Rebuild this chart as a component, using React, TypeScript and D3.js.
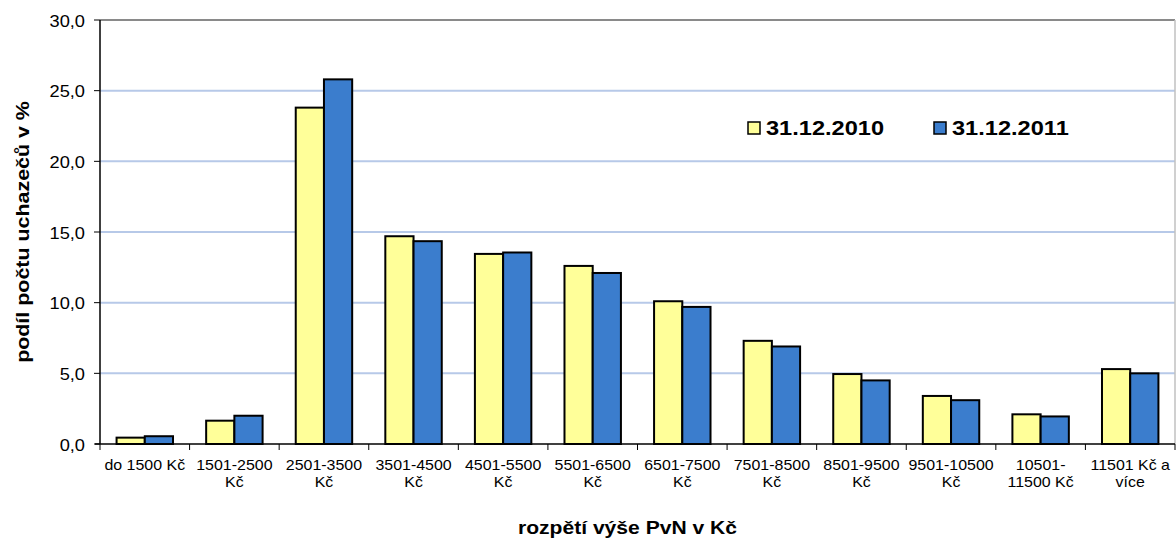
import React from "react";
import * as d3 from "d3";

const categories: string[][] = [
  ["do 1500 Kč"],
  ["1501-2500", "Kč"],
  ["2501-3500", "Kč"],
  ["3501-4500", "Kč"],
  ["4501-5500", "Kč"],
  ["5501-6500", "Kč"],
  ["6501-7500", "Kč"],
  ["7501-8500", "Kč"],
  ["8501-9500", "Kč"],
  ["9501-10500", "Kč"],
  ["10501-", "11500 Kč"],
  ["11501 Kč a", "více"],
];
const series2010: number[] = [0.45, 1.65, 23.8, 14.7, 13.45, 12.6, 10.1, 7.3, 4.95, 3.4, 2.1, 5.3];
const series2011: number[] = [0.55, 2.0, 25.8, 14.35, 13.55, 12.1, 9.7, 6.9, 4.5, 3.1, 1.95, 5.0];
const seriesNames = ["31.12.2010", "31.12.2011"];
const seriesColors = ["#ffff99", "#3b7dcd"];
const yTicks: number[] = [0, 5, 10, 15, 20, 25, 30];

const W = 1176;
const H = 549;
const M = { left: 100, right: 1175, top: 20, bottom: 444 };
const font = "'Liberation Sans', Arial, sans-serif";
const SX = 1.14;

export default function App() {
  const idx = d3.range(categories.length).map(String);
  const x = d3.scaleBand<string>().domain(idx).range([M.left, M.right]).paddingInner(0.37).paddingOuter(0.185);
  const step = (M.right - M.left) / categories.length;
  const bw = x.bandwidth() / 2;
  const y = d3.scaleLinear().domain([0, 30]).range([M.bottom, M.top]);
  const fmt = (v: number) => v.toFixed(1).replace(".", ",");
  const all = [series2010, series2011];

  return (
    <svg width={W} height={H} style={{ position: "absolute", left: 0, top: 0, background: "#fff" }} fontFamily={font}>
      {/* gridlines */}
      {yTicks.filter((t) => t > 0 && t < 30).map((t) => (
        <line key={"g" + t} x1={M.left} x2={M.right} y1={y(t)} y2={y(t)} stroke="#b7c9e8" strokeWidth={2} />
      ))}
      <line x1={M.left} x2={M.right} y1={y(30)} y2={y(30)} stroke="#8a8a8a" strokeWidth={2} />
      <line x1={M.right} x2={M.right} y1={M.top} y2={M.bottom} stroke="#c0c0c0" strokeWidth={1.5} />
      {/* bars */}
      {all.map((s, si) =>
        s.map((v, i) => (
          <rect
            key={si + "-" + i}
            x={(x(String(i)) as number) + si * bw}
            y={y(v)}
            width={bw}
            height={y(0) - y(v)}
            fill={seriesColors[si]}
            stroke="#000"
            strokeWidth={2}
          />
        ))
      )}
      {/* axes */}
      <line x1={M.left} x2={M.left} y1={M.top} y2={M.bottom} stroke="#000" strokeWidth={1.5} />
      <line x1={M.left - 5} x2={M.right} y1={M.bottom} y2={M.bottom} stroke="#000" strokeWidth={1.5} />
      {yTicks.map((t) => (
        <g key={"y" + t}>
          <line x1={M.left - 6} x2={M.left} y1={y(t)} y2={y(t)} stroke="#000" strokeWidth={1} />
          <text transform={`translate(85, ${y(t) + 6.5}) scale(${SX},1)`} textAnchor="end" fontSize={16} fill="#000">
            {fmt(t)}
          </text>
        </g>
      ))}
      {d3.range(categories.length + 1).map((i) => (
        <line key={"xt" + i} x1={M.left + i * step} x2={M.left + i * step} y1={M.bottom} y2={M.bottom + 6} stroke="#000" strokeWidth={1} />
      ))}
      {categories.map((lines, i) => {
        const cx = (x(String(i)) as number) + x.bandwidth() / 2;
        return (
          <text key={"c" + i} transform={`translate(${cx}, 470) scale(${SX},1)`} textAnchor="middle" fontSize={14} fill="#000">
            {lines.map((l, j) => (
              <tspan key={j} x={0} dy={j === 0 ? 0 : 17}>
                {l}
              </tspan>
            ))}
          </text>
        );
      })}
      {/* axis titles */}
      <text
        transform={`translate(29, ${(M.top + M.bottom) / 2}) rotate(-90) scale(${SX},1)`}
        textAnchor="middle"
        fontSize={18.8}
        fontWeight="bold"
        fill="#000"
      >
        podíl počtu uchazečů v %
      </text>
      <text
        transform={`translate(${(M.left + M.right) / 2 - 10}, 534) scale(${SX},1)`}
        textAnchor="middle"
        fontSize={18.5}
        fontWeight="bold"
        fill="#000"
      >
        rozpětí výše PvN v Kč
      </text>
      {/* legend */}
      {seriesNames.map((n, i) => {
        const lx = [748, 934][i];
        return (
          <g key={"l" + i}>
            <rect x={lx} y={122} width={12} height={12} fill={seriesColors[i]} stroke="#000" strokeWidth={1.5} />
            <text transform={`translate(${lx + 18}, 135) scale(${SX},1)`} fontSize={20.7} fontWeight="bold" fill="#000">
              {n}
            </text>
          </g>
        );
      })}
    </svg>
  );
}
